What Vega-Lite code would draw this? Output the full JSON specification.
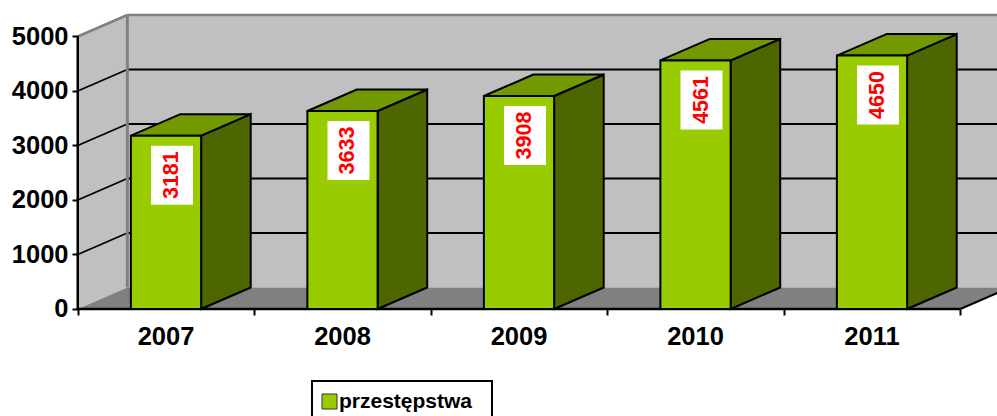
{
"$schema":"https://vega.github.io/schema/vega-lite/v6.json",
"width":997,"height":416,"padding":0,"autosize":{"type":"none"},
"background":"white",
"config":{"view":{"stroke":null},"font":"Liberation Sans","legend":{"strokeWidth":2}},
"resolve":{"axis":{"x":"independent","y":"independent"}},
"data":{"values":[
{"year":2007,"value":3181,"series":"przestępstwa"},
{"year":2008,"value":3633,"series":"przestępstwa"},
{"year":2009,"value":3908,"series":"przestępstwa"},
{"year":2010,"value":4561,"series":"przestępstwa"},
{"year":2011,"value":4650,"series":"przestępstwa"}
]},
"layer":[
{"data":{"values":[{"face":"back wall"}]},
"transform":[{"calculate":"2006.7809","as":"xa"},{"calculate":"2011.7809","as":"xb"},{"calculate":"394.5","as":"ya"},{"calculate":"5394.5","as":"yb"}],
"mark":{"type":"rect","fill":"#C0C0C0","clip":true},
"encoding":{
"x":{"field":"xa","type":"quantitative","scale":{"domain":[2006.0595,2011.7082],"nice":false,"zero":false},
"axis":{"values":[2006.5,2007.5,2008.5,2009.5,2010.5,2011.5],"labels":false,"title":null,"domain":false,"grid":false,"offset":-107,"tickSize":6,"tickWidth":2,"tickColor":"#000","zindex":1}},
"x2":{"field":"xb"},
"y":{"field":"ya","type":"quantitative","scale":{"domain":[-1963.3,5669.7],"nice":false,"zero":false},
"axis":{"values":[0,1000,2000,3000,4000,5000],"title":null,"domain":false,"grid":false,"offset":-78,"tickSize":6,"tickWidth":2,"tickColor":"#000","labelFont":"Liberation Sans","labelFontWeight":"bold","labelFontSize":25.5,"labelColor":"#000","labelPadding":4,"format":"d","zindex":1}},
"y2":{"field":"yb"}
}},
{"data":{"values":[{"face":"left wall"}]},
"transform":[{"calculate":"[0,1]","as":"t"},{"flatten":["t"]},
{"calculate":"2006.5+datum.t*0.2809","as":"px"},{"calculate":"datum.t*394.5","as":"py"},{"calculate":"5000+datum.t*394.5","as":"py2"}],
"mark":{"type":"area","fill":"#C0C0C0","orient":"vertical","clip":true},
"encoding":{
"x":{"field":"px","type":"quantitative","scale":{"domain":[2006.0595,2011.7082],"nice":false,"zero":false},"axis":null},
"y":{"field":"py","type":"quantitative","scale":{"domain":[-1963.3,5669.7],"nice":false,"zero":false},"axis":null},
"y2":{"field":"py2"}
}},
{"data":{"values":[{"face":"floor"}]},
"transform":[{"calculate":"[0,1]","as":"t"},{"flatten":["t"]},
{"calculate":"2006.5+datum.t*0.2809","as":"px"},{"calculate":"2011.5+datum.t*0.2809","as":"px2"},{"calculate":"datum.t*394.5","as":"py"}],
"mark":{"type":"area","fill":"#808080","orient":"horizontal","clip":true},
"encoding":{
"x":{"field":"px","type":"quantitative","scale":{"domain":[2006.0595,2011.7082],"nice":false,"zero":false},"axis":null},
"x2":{"field":"px2"},
"y":{"field":"py","type":"quantitative","scale":{"domain":[-1963.3,5669.7],"nice":false,"zero":false},"axis":null}
}},
{"data":{"values":[{"level":1000},{"level":2000},{"level":3000},{"level":4000}]},
"transform":[{"calculate":"datum.level+394.5","as":"backLevel"},{"calculate":"2006.5","as":"xf"},{"calculate":"2006.7809","as":"xg"},{"calculate":"2011.7809","as":"xh"}],
"layer":[
{"mark":{"type":"rule","stroke":"#000","strokeWidth":1.8,"clip":true},
"encoding":{
"x":{"field":"xf","type":"quantitative","scale":{"domain":[2006.0595,2011.7082],"nice":false,"zero":false},"axis":null},
"x2":{"field":"xg"},
"y":{"field":"level","type":"quantitative","scale":{"domain":[-1963.3,5669.7],"nice":false,"zero":false},"axis":null},
"y2":{"field":"backLevel"}
}},
{"mark":{"type":"rule","stroke":"#000","strokeWidth":1.8,"clip":true},
"encoding":{
"x":{"field":"xg","type":"quantitative","scale":{"domain":[2006.0595,2011.7082],"nice":false,"zero":false},"axis":null},
"x2":{"field":"xh"},
"y":{"field":"backLevel","type":"quantitative","scale":{"domain":[-1963.3,5669.7],"nice":false,"zero":false},"axis":null}
}}
]},
{"data":{"values":[{"edge":"frame"}]},
"transform":[{"calculate":"2006.5","as":"xf"},{"calculate":"2006.7809","as":"xg"},{"calculate":"2011.5","as":"xe"},{"calculate":"2011.7809","as":"xh"},{"calculate":"0","as":"y0v"},{"calculate":"394.5","as":"y0b"},{"calculate":"5000","as":"y5v"},{"calculate":"5394.5","as":"y5b"},{"calculate":"2006.4929","as":"xs"},{"calculate":"2006.5071","as":"xt"}],
"layer":[
{"mark":{"type":"rule","stroke":"#808080","strokeWidth":2.5,"clip":true},
"encoding":{
"x":{"field":"xg","type":"quantitative","scale":{"domain":[2006.0595,2011.7082],"nice":false,"zero":false},"axis":null},
"x2":{"field":"xh"},
"y":{"field":"y5b","type":"quantitative","scale":{"domain":[-1963.3,5669.7],"nice":false,"zero":false},"axis":null}
}},
{"mark":{"type":"rule","stroke":"#808080","strokeWidth":2.5,"clip":true},
"encoding":{
"x":{"field":"xf","type":"quantitative","scale":{"domain":[2006.0595,2011.7082],"nice":false,"zero":false},"axis":null},
"x2":{"field":"xg"},
"y":{"field":"y5v","type":"quantitative","scale":{"domain":[-1963.3,5669.7],"nice":false,"zero":false},"axis":null},
"y2":{"field":"y5b"}
}},
{"mark":{"type":"rule","stroke":"#808080","strokeWidth":3,"clip":true},
"encoding":{
"x":{"field":"xg","type":"quantitative","scale":{"domain":[2006.0595,2011.7082],"nice":false,"zero":false},"axis":null},
"x2":{"field":"xg"},
"y":{"field":"y0b","type":"quantitative","scale":{"domain":[-1963.3,5669.7],"nice":false,"zero":false},"axis":null},
"y2":{"field":"y5b"}
}},
{"mark":{"type":"rect","fill":"#000"},
"encoding":{
"x":{"field":"xs","type":"quantitative","scale":{"domain":[2006.0595,2011.7082],"nice":false,"zero":false},"axis":null},
"x2":{"field":"xt"},
"y":{"field":"y0v","type":"quantitative","scale":{"domain":[-1963.3,5669.7],"nice":false,"zero":false},"axis":null},
"y2":{"field":"y5v"}
}},
{"mark":{"type":"rule","stroke":"#000","strokeWidth":2.5,"clip":true},
"encoding":{
"x":{"field":"xf","type":"quantitative","scale":{"domain":[2006.0595,2011.7082],"nice":false,"zero":false},"axis":null},
"x2":{"field":"xe"},
"y":{"field":"y0v","type":"quantitative","scale":{"domain":[-1963.3,5669.7],"nice":false,"zero":false},"axis":null}
}},
{"mark":{"type":"rule","stroke":"#000","strokeWidth":2,"clip":true},
"encoding":{
"x":{"field":"xe","type":"quantitative","scale":{"domain":[2006.0595,2011.7082],"nice":false,"zero":false},"axis":null},
"x2":{"field":"xh"},
"y":{"field":"y0v","type":"quantitative","scale":{"domain":[-1963.3,5669.7],"nice":false,"zero":false},"axis":null},
"y2":{"field":"y0b"}
}}
]},
{"transform":[{"calculate":"[0,1]","as":"t"},{"flatten":["t"]},
{"calculate":"datum.year+0.199+datum.t*0.2809","as":"px"},{"calculate":"datum.t*394.5","as":"py"},{"calculate":"datum.value+datum.t*394.5","as":"py2"}],
"mark":{"type":"area","fill":"#4D6600","stroke":"#000","strokeWidth":2,"orient":"vertical"},
"encoding":{
"detail":{"field":"year"},
"x":{"field":"px","type":"quantitative","scale":{"domain":[2006.0595,2011.7082],"nice":false,"zero":false},"axis":null},
"y":{"field":"py","type":"quantitative","scale":{"domain":[-1963.3,5669.7],"nice":false,"zero":false},"axis":null},
"y2":{"field":"py2"}
}},
{"transform":[{"calculate":"[0,1]","as":"t"},{"flatten":["t"]},
{"calculate":"datum.year-0.199+datum.t*0.2809","as":"px"},{"calculate":"datum.year+0.199+datum.t*0.2809","as":"px2"},{"calculate":"datum.value+datum.t*394.5","as":"py"}],
"mark":{"type":"area","fill":"#739900","stroke":"#000","strokeWidth":2,"orient":"horizontal"},
"encoding":{
"detail":{"field":"year"},
"x":{"field":"px","type":"quantitative","scale":{"domain":[2006.0595,2011.7082],"nice":false,"zero":false},"axis":null},
"x2":{"field":"px2"},
"y":{"field":"py","type":"quantitative","scale":{"domain":[-1963.3,5669.7],"nice":false,"zero":false},"axis":null}
}},
{"transform":[{"calculate":"datum.year-0.199","as":"xl"},{"calculate":"datum.year+0.199","as":"xr"},{"calculate":"0","as":"base"}],
"mark":{"type":"rect","stroke":"#000","strokeWidth":2},
"encoding":{
"x":{"field":"xl","type":"quantitative","scale":{"domain":[2006.0595,2011.7082],"nice":false,"zero":false},"axis":null},
"x2":{"field":"xr"},
"y":{"field":"value","type":"quantitative","scale":{"domain":[-1963.3,5669.7],"nice":false,"zero":false},"axis":null},
"y2":{"field":"base"},
"fill":{"field":"series","type":"nominal","scale":{"domain":["przestępstwa"],"range":["#99CC00"]},
"legend":{"orient":"none","legendX":312,"legendY":381,"title":" ","titleOrient":"right","titleFontSize":1,"titlePadding":10,"padding":10,"symbolOffset":-3,"strokeColor":"#000","symbolType":"square","symbolSize":225,"symbolStrokeColor":"#333","symbolStrokeWidth":1,"symbolOpacity":1,"labelFont":"Liberation Sans","labelFontWeight":"bold","labelFontSize":21,"labelColor":"#000","labelOffset":-1,"labelLimit":300}}
}},
{"mark":{"type":"rect","fill":"#FFFFFF","width":42,"height":59,"xOffset":6,"yOffset":39.5},
"encoding":{
"x":{"field":"year","type":"quantitative","scale":{"domain":[2006.0595,2011.7082],"nice":false,"zero":false},"axis":null},
"y":{"field":"value","type":"quantitative","scale":{"domain":[-1963.3,5669.7],"nice":false,"zero":false},"axis":null}
}},
{"mark":{"type":"text","color":"#FF0000","font":"Liberation Sans","fontWeight":"bold","fontSize":21.5,"angle":270,"align":"center","baseline":"middle","xOffset":6,"yOffset":39.5},
"encoding":{
"x":{"field":"year","type":"quantitative","scale":{"domain":[2006.0595,2011.7082],"nice":false,"zero":false},"axis":null},
"y":{"field":"value","type":"quantitative","scale":{"domain":[-1963.3,5669.7],"nice":false,"zero":false},"axis":null},
"text":{"field":"value","type":"nominal"}
}},
{"transform":[{"calculate":"0","as":"base"}],
"mark":{"type":"text","color":"#000","font":"Liberation Sans","fontWeight":"bold","fontSize":25.5,"align":"center","baseline":"middle","yOffset":28},
"encoding":{
"x":{"field":"year","type":"quantitative","scale":{"domain":[2006.0595,2011.7082],"nice":false,"zero":false},"axis":null},
"y":{"field":"base","type":"quantitative","scale":{"domain":[-1963.3,5669.7],"nice":false,"zero":false},"axis":null},
"text":{"field":"year","type":"nominal"}
}}
]
}
